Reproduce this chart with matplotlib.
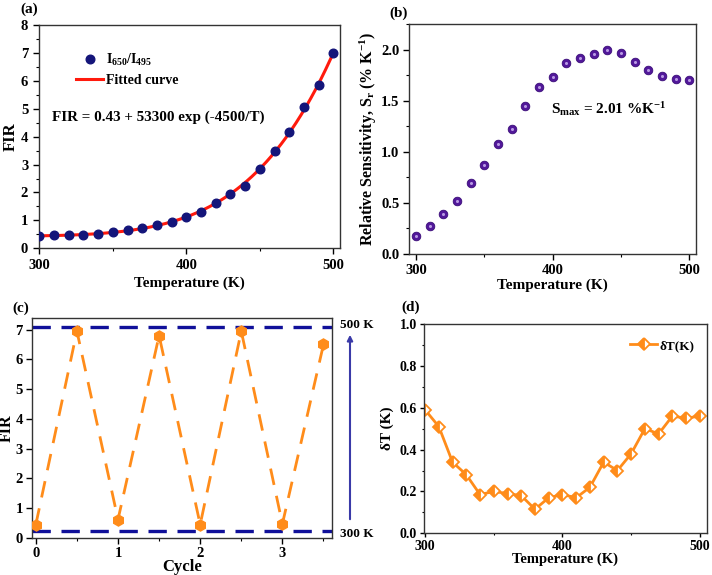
import numpy as np
import matplotlib
matplotlib.use("Agg")
import matplotlib.pyplot as plt
from matplotlib.ticker import MultipleLocator, FormatStrFormatter
from matplotlib.patches import FancyArrowPatch

plt.rcParams['font.family'] = ['Liberation Serif', 'DejaVu Serif']
plt.rcParams['font.weight'] = 'bold'
plt.rcParams['axes.labelweight'] = 'bold'
plt.rcParams['mathtext.fontset'] = 'custom'
plt.rcParams['mathtext.rm'] = 'Liberation Serif:bold'
plt.rcParams['mathtext.bf'] = 'Liberation Serif:bold'
plt.rcParams['mathtext.it'] = 'Liberation Serif:bold'
plt.rcParams['mathtext.default'] = 'bf'

# ---------------- data ----------------
temps = [300, 310, 320, 330, 340, 350, 360, 370, 380, 390, 400,
         410, 420, 430, 440, 450, 460, 470, 480, 490, 500]
fir_vals = [0.44, 0.46, 0.46, 0.49, 0.53, 0.58, 0.64, 0.74, 0.82, 0.94, 1.12,
            1.31, 1.62, 1.95, 2.24, 2.83, 3.49, 4.18, 5.08, 5.86, 6.99]
# fitted-curve parameters as printed on panel (a)
fit_a = 0.43
fit_b = 53300
fit_c = 4500
sr_vals = [0.18, 0.27, 0.39, 0.52, 0.69, 0.87, 1.075, 1.225, 1.45, 1.63, 1.73,
           1.87, 1.92, 1.96, 2.00, 1.97, 1.88, 1.80, 1.74, 1.71, 1.70]
cycle_x = [0, 0.5, 1, 1.5, 2, 2.5, 3, 3.5]
cycle_fir = [0.45, 6.95, 0.62, 6.8, 0.45, 6.95, 0.47, 6.5]
cycle_hi = 7.1
cycle_lo = 0.25
dT_vals = [0.59, 0.51, 0.34, 0.28, 0.185, 0.20, 0.19, 0.18, 0.115, 0.17, 0.185,
           0.17, 0.22, 0.34, 0.30, 0.38, 0.50, 0.475, 0.56, 0.55, 0.56]

W, H = 712, 575
fig = plt.figure(figsize=(W / 100, H / 100), dpi=100)


def add_axes(l, t, r, b):
    return fig.add_axes([l / W, 1 - b / H, (r - l) / W, (b - t) / H])


def style(ax, ls=10.5, pad=3, length=4):
    for s in ax.spines.values():
        s.set_linewidth(1.0)
        s.set_color('#333333')
    ax.tick_params(which='major', direction='out', length=length, width=1,
                   labelsize=ls, top=False, right=False, pad=pad)
    ax.tick_params(which='minor', direction='out', length=length * 0.6,
                   width=0.8, top=False, right=False)
    for lab in ax.get_xticklabels() + ax.get_yticklabels():
        lab.set_fontweight('bold')


# ---------------- (a) ----------------
axa = add_axes(39.3, 25, 340, 248.3)
T_fine = np.linspace(300, 500, 300)
axa.plot(T_fine, fit_a + fit_b * np.exp(-fit_c / T_fine), color='#ff1a0d',
         lw=2.2, label='Fitted curve', zorder=2)
axa.plot(temps, fir_vals, 'o', color='#14157a', ms=6.2, ls='none',
         label='I$_{650}$/I$_{495}$', zorder=3)
axa.set_xlim(300, 504.5)
axa.set_ylim(0, 8)
axa.xaxis.set_major_locator(MultipleLocator(100))
axa.xaxis.set_minor_locator(MultipleLocator(50))
axa.yaxis.set_major_locator(MultipleLocator(1))
axa.yaxis.set_minor_locator(MultipleLocator(0.5))
axa.set_xlabel('Temperature (K)', fontsize=11)
axa.xaxis.set_label_coords(0.5, -0.125)
axa.set_ylabel('FIR', fontsize=12)
axa.yaxis.set_label_coords(-0.068, 0.5)
h, l = axa.get_legend_handles_labels()
axa.legend(h[::-1], l[::-1], loc='upper left', bbox_to_anchor=(0.105, 0.905),
           frameon=False, fontsize=10, handlelength=1.9, handletextpad=0.25,
           borderaxespad=0, labelspacing=0.45)
axa.text(0.041, 0.589, 'FIR = %.2f + %d exp (-%d/T)' % (fit_a, fit_b, fit_c),
         transform=axa.transAxes, fontsize=10.9, fontweight='bold',
         va='center', ha='left')
style(axa, 10.5, pad=4)
fig.text(20 / W, 1 - 9 / H, '(a)', fontsize=11, fontweight='bold', va='center')

# ---------------- (b) ----------------
axb = add_axes(409, 24, 696, 254)
axb.plot(temps, sr_vals, 'o', color='#52189a', ms=6.2, ls='none',
         markeredgecolor='#3a0c78', markeredgewidth=0.6)
axb.plot(temps, sr_vals, 'o', color='#c4a8ec', ms=2.2, ls='none',
         markeredgewidth=0, alpha=0.9)
axb.set_xlim(295, 505)
axb.set_ylim(0, 2.25)
axb.xaxis.set_major_locator(MultipleLocator(100))
axb.xaxis.set_minor_locator(MultipleLocator(50))
axb.yaxis.set_major_locator(MultipleLocator(0.5))
axb.yaxis.set_minor_locator(MultipleLocator(0.25))
axb.set_xlabel('Temperature (K)', fontsize=11)
axb.xaxis.set_label_coords(0.5, -0.108)
axb.set_ylabel('Relative Sensitivity, S$_\\mathrm{r}$ (% K$^{-1}$)',
               fontsize=11.5)
axb.yaxis.set_label_coords(-0.105, 0.5)
axb.text(399, 1.42, 'S$_{\\mathrm{max}}$ = 2.01 %K$^{-1}$', fontsize=11,
         fontweight='bold', va='center', ha='left')
style(axb, 10.5)
fig.text(389 / W, 1 - 13 / H, '(b)', fontsize=11, fontweight='bold', va='center')

# ---------------- (c) ----------------
axc = add_axes(31.7, 317.7, 331.7, 538)
axc.axhline(cycle_hi, color='#10109a', lw=2.4, ls=(0, (5.5, 3.2)), zorder=1)
axc.axhline(cycle_lo, color='#10109a', lw=2.4, ls=(0, (5.5, 3.2)), zorder=1)
axc.plot(cycle_x, cycle_fir, color='#ff8c1a', lw=2.0, ls=(0, (6, 4)),
         marker='h', ms=8, markerfacecolor='#ff8c1a', markeredgecolor='#ff8c1a',
         zorder=3)
axc.set_xlim(-0.05, 3.6)
axc.set_ylim(0, 7.4)
axc.xaxis.set_major_locator(MultipleLocator(1))
axc.xaxis.set_minor_locator(MultipleLocator(0.5))
axc.yaxis.set_major_locator(MultipleLocator(1))
axc.set_xlabel('Cycle', fontsize=12)
axc.xaxis.set_label_coords(0.5, -0.097)
axc.set_ylabel('FIR', fontsize=11.5)
axc.yaxis.set_label_coords(-0.056, 0.5)
style(axc, 10.5, pad=2.5)
fig.text(12 / W, 1 - 308 / H, '(c)', fontsize=11, fontweight='bold', va='center')
fig.text(340 / W, 1 - 325 / H, '500 K', fontsize=9.5, fontweight='bold', va='center')
fig.text(340 / W, 1 - 534 / H, '300 K', fontsize=9.5, fontweight='bold', va='center')
fig.add_artist(FancyArrowPatch(
    (350 / W, 1 - 522 / H), (350 / W, 1 - 332 / H), transform=fig.transFigure,
    arrowstyle='-|>', mutation_scale=8, color='#3a3aa8', lw=1.5))

# ---------------- (d) ----------------
axd = add_axes(423.7, 324, 706.7, 533.3)
axd.plot(temps, dT_vals, color='#ff8c1a', lw=2.0, marker='D', ms=6.5,
         fillstyle='left', markerfacecolor='#ff8c1a',
         markerfacecoloralt='white', markeredgecolor='#ff8c1a',
         markeredgewidth=1.3, label='δT(K)')
axd.set_xlim(299, 505)
axd.set_ylim(0, 1.0)
axd.xaxis.set_major_locator(MultipleLocator(100))
axd.xaxis.set_minor_locator(MultipleLocator(50))
axd.yaxis.set_major_locator(MultipleLocator(0.2))
axd.yaxis.set_minor_locator(MultipleLocator(0.1))
axd.yaxis.set_major_formatter(FormatStrFormatter('%.1f'))
axd.set_xlabel('Temperature (K)', fontsize=10.5)
axd.xaxis.set_label_coords(0.5, -0.092)
axd.set_ylabel('δT (K)', fontsize=11)
axd.yaxis.set_label_coords(-0.105, 0.5)
axd.legend(loc='upper right', bbox_to_anchor=(0.975, 0.95), frameon=False,
           fontsize=9.5, handlelength=2.0, handletextpad=0.2, borderaxespad=0)
style(axd, 10, pad=2, length=3)
fig.text(401 / W, 1 - 307 / H, '(d)', fontsize=11, fontweight='bold', va='center')

fig.savefig('out.png', dpi=100, facecolor='white')
